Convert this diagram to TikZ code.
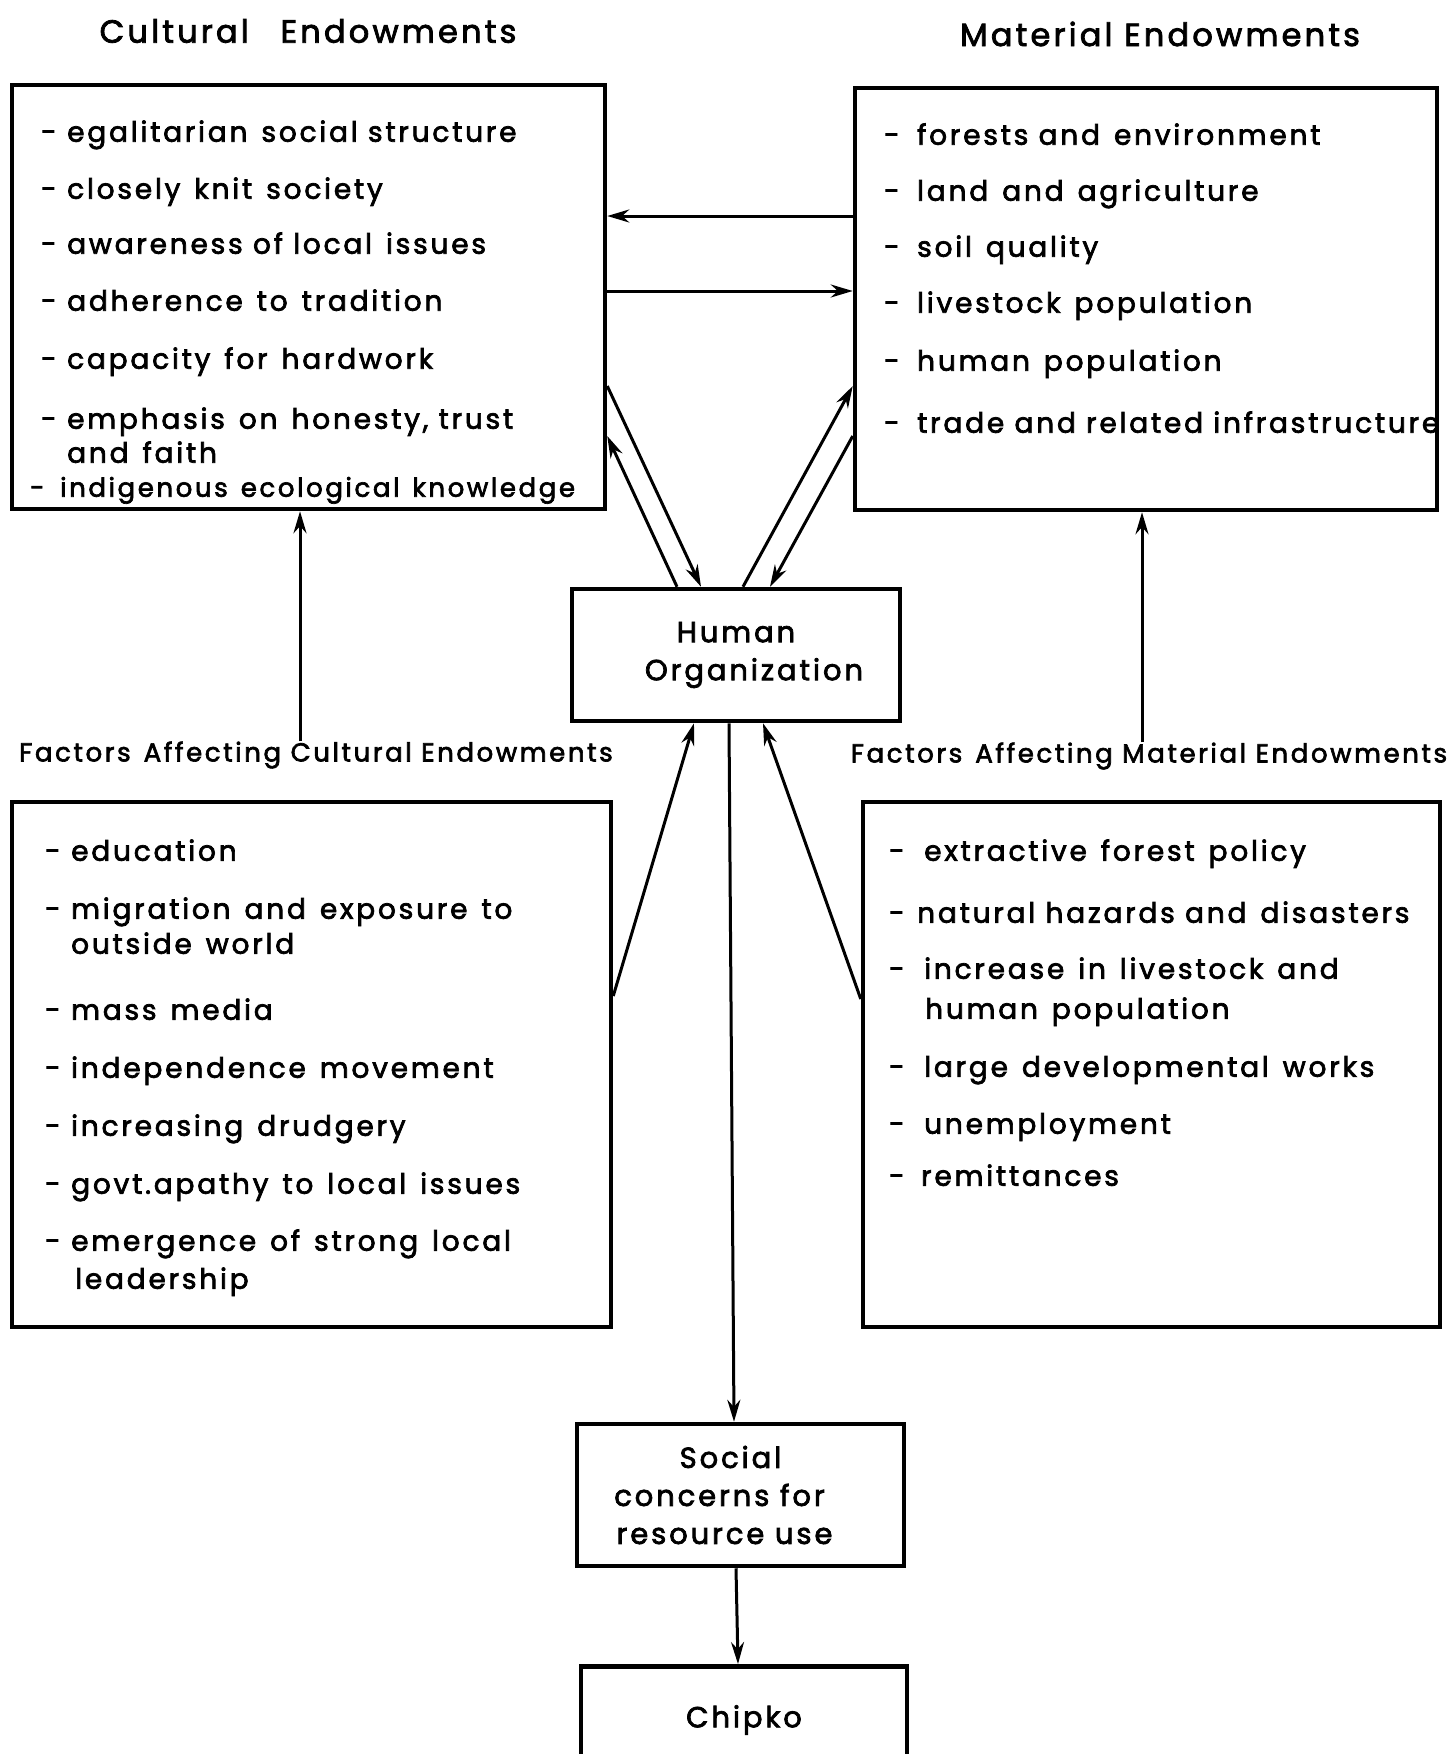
\documentclass[tikz,border=0pt]{standalone}
\usepackage{fontspec}
\setmainfont{Poppins}[LetterSpace=10,FakeBold=2.5]
\usetikzlibrary{arrows.meta}
\newcommand\dsh{\makebox[26pt][l]{-}}
\newcommand\myshiftline[2]{\makebox[0pt]{#2\hspace*{#1}}}
\begin{document}
\begin{tikzpicture}[x=1pt,y=-1pt,
  box/.style={draw,line width=4.5pt,rectangle,inner sep=0pt},
  itm/.style={anchor=mid west,inner sep=0pt,yshift=-8pt,font=\fontsize{28}{34}\selectfont},
  ttl/.style={inner sep=0pt,font=\fontsize{32}{38}\selectfont},
  lbl/.style={inner sep=0pt,font=\fontsize{26}{30}\selectfont},
  ctext/.style={align=center,font=\fontsize{29}{38}\selectfont},
  conn/.style={line width=3pt,-{Stealth[length=22pt,width=13pt]}},
]
\useasboundingbox[fill=white] (0,0) rectangle (1450,1754);

% boxes
\node[box,minimum width=593pt,minimum height=424pt] (cult) at (308.5,297) {};
\node[box,minimum width=582pt,minimum height=422pt] (mat) at (1146,299) {};
\node[box,minimum width=328pt,minimum height=132pt,ctext] (ho) at (736,655) {Human\\\hspace*{36pt}Organization};
\node[box,minimum width=599pt,minimum height=525pt] (fcult) at (311.5,1064.5) {};
\node[box,minimum width=577pt,minimum height=525pt] (fmat) at (1151.5,1064.5) {};
\node[box,minimum width=327pt,minimum height=142pt,ctext] (soc) at (740.5,1495) {\myshiftline{20pt}{Social}\\\myshiftline{42pt}{concerns for}\\\myshiftline{32pt}{resource use}};
\node[box,minimum width=326pt,minimum height=110pt,ctext,anchor=north] (chip) at (744,1664) {\raisebox{10pt}{Chipko}};

% titles
\node[ttl] (tc) at (308,31) {Cultural\quad Endowments};
\node[ttl] (tm) at (1160,34) {Material Endowments};
\node[lbl] (fcl) at (316,755) {Factors\enspace Affecting Cultural Endowments};
\node[lbl] (fml) at (1149,756) {Factors\enspace Affecting Material Endowments};

% cultural endowments
\node[itm] (c1) at (41,131) {\dsh egalitarian\enspace social structure};
\node[itm] (c2) at (41,188) {\dsh closely\enspace knit\enspace society};
\node[itm] (c3) at (41,243) {\dsh awareness of local\enspace issues};
\node[itm] (c4) at (41,300) {\dsh adherence\enspace to\enspace tradition};
\node[itm] (c5) at (41,358) {\dsh capacity\enspace for\enspace hardwork};
\node[itm] (c6) at (41,418) {\dsh emphasis\enspace on\enspace honesty, trust};
\node[itm] (c6b) at (67,452) {and\enspace faith};
\node[itm,font=\fontsize{26}{30}\selectfont] (c7) at (30,486) {\makebox[30pt][l]{-}indigenous\enspace ecological\enspace knowledge};

% material endowments
\node[itm] (m1) at (884,134) {\makebox[33pt][l]{-}forests and\enspace environment};
\node[itm] (m2) at (884,190) {\makebox[33pt][l]{-}land\enspace and\enspace agriculture};
\node[itm] (m3) at (884,246) {\makebox[33pt][l]{-}soil\enspace quality};
\node[itm] (m4) at (884,302) {\makebox[33pt][l]{-}livestock\enspace population};
\node[itm] (m5) at (884,360) {\makebox[33pt][l]{-}human\enspace population};
\node[itm] (m6) at (884,422) {\makebox[33pt][l]{-}trade and related infrastructure};

% factors cultural
\node[itm] (f1) at (45,850) {\dsh education};
\node[itm] (f2) at (45,908) {\dsh migration\enspace and\enspace exposure\enspace to};
\node[itm] (f2b) at (71,943) {outside\enspace world};
\node[itm] (f3) at (45,1009) {\dsh mass\enspace media};
\node[itm] (f4) at (45,1067) {\dsh independence\enspace movement};
\node[itm] (f5) at (45,1125) {\dsh increasing\enspace drudgery};
\node[itm] (f6) at (45,1183) {\dsh govt.apathy\enspace to\enspace local\enspace issues};
\node[itm] (f7) at (45,1240) {\dsh emergence\enspace of\enspace strong\enspace local};
\node[itm] (f7b) at (75,1278) {leadership};

% factors material
\node[itm] (g1) at (889,850) {\makebox[35pt][l]{-}extractive\enspace forest\enspace policy};
\node[itm] (g2) at (889,912) {\makebox[28pt][l]{-}natural hazards and\enspace disasters};
\node[itm] (g3) at (889,968) {\makebox[35pt][l]{-}increase\enspace in\enspace livestock\enspace and};
\node[itm] (g3b) at (925,1008) {human\enspace population};
\node[itm] (g4) at (889,1066) {\makebox[35pt][l]{-}large\enspace developmental\enspace works};
\node[itm] (g5) at (889,1123) {\makebox[35pt][l]{-}unemployment};
\node[itm] (g6) at (889,1175) {\makebox[32pt][l]{-}remittances};

% connectors
\draw[conn] (mat.west |- 0,216) -- (cult.east |- 0,216);
\draw[conn] (cult.east |- 0,291) -- (mat.west |- 0,291);
\draw[conn] (cult.east |- 0,386) -- (ho.north -| 701,0);
\draw[conn] (ho.north -| 677,0) -- (cult.east |- 0,436);
\draw[conn] (ho.north -| 743,0) -- (mat.west |- 0,386);
\draw[conn] (mat.west |- 0,436) -- (ho.north -| 770,0);
\draw[conn] (fcl.north -| 300,0) -- (cult.south -| 300,0);
\draw[conn] (fml.north -| 1142,0) -- (mat.south -| 1142,0);
\draw[conn] (fcult.east |- 0,996) -- (ho.south -| 694,0);
\draw[conn] (fmat.west |- 0,999) -- (ho.south -| 763,0);
\draw[conn] (ho.south -| 729,0) -- (soc.north -| 734,0);
\draw[conn] (soc.south -| 736,0) -- (chip.north -| 738,0);
\end{tikzpicture}
\end{document}
